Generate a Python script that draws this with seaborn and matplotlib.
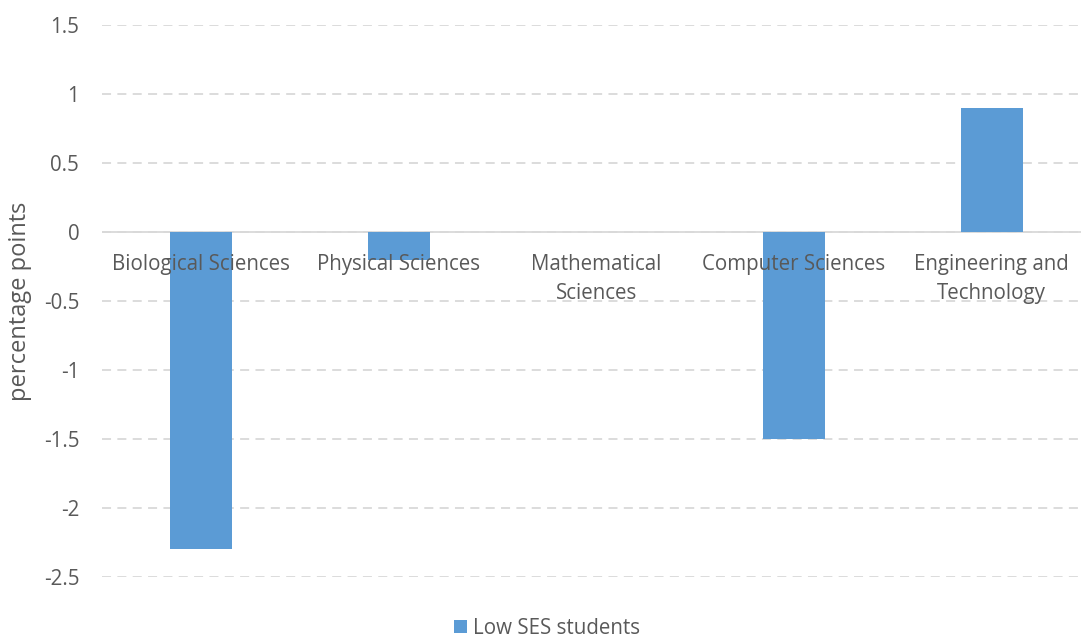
import matplotlib
matplotlib.use("Agg")
import matplotlib.pyplot as plt
import matplotlib.transforms as mtransforms
import seaborn as sns
import pandas as pd

categories = ["Biological Sciences", "Physical Sciences", "Mathematical\nSciences",
              "Computer Sciences", "Engineering and\nTechnology"]
values = [-2.3, -0.2, 0.0, -1.5, 0.9]
series_name = "Low SES students"
y_ticks = [-2.5, -2, -1.5, -1, -0.5, 0, 0.5, 1, 1.5]
y_tick_labels = ["-2.5", "-2", "-1.5", "-1", "-0.5", "0", "0.5", "1", "1.5"]

sns.set_theme(style="white")
plt.rcParams["font.family"] = ["Open Sans", "DejaVu Sans"]

text_color = "#595959"
grid_color = "#d9d9d9"
bar_color = "#5B9BD5"
fs = 14.8

df = pd.DataFrame({"category": categories, "value": values})

fig = plt.figure(figsize=(10.81, 6.39), dpi=100)
ax = fig.add_axes([0.0944, 0.097, 0.9144, 0.864])

sns.barplot(data=df, x="category", y="value", color=bar_color, width=0.314,
            saturation=1, linewidth=0, label=series_name, ax=ax, zorder=3)

ax.set_ylim(-2.5, 1.5)
ax.set_xlim(-0.5, len(categories) - 0.5)
ax.set_yticks(y_ticks)
ax.set_yticklabels(y_tick_labels)

# dashed horizontal gridlines under the bars, solid category axis at zero
ax.set_axisbelow(True)
ax.yaxis.grid(True, color=grid_color, linestyle=(0, (5, 3.5)), linewidth=1.3)
ax.xaxis.grid(False)
for side in ["top", "right", "left", "bottom"]:
    ax.spines[side].set_visible(False)
ax.axhline(0, color=grid_color, linewidth=1.3, zorder=1)

ax.tick_params(axis="y", length=0, pad=16.5, labelsize=fs, labelcolor=text_color)
ax.set_xticks([])
ax.set_xlabel("")

# category names sit just under the zero line, drawn over the bars
label_tr = mtransforms.offset_copy(ax.transData, fig=fig, x=0, y=-16, units="points")
for i, name in enumerate(categories):
    ax.text(i, 0, name, transform=label_tr, ha="center", va="top",
            fontsize=fs, color=text_color, linespacing=1.52, zorder=5)

ax.set_ylabel("percentage points", fontsize=17, color=text_color)
ax.yaxis.set_label_coords(-0.071, 0.5)

# legend centred on the figure, along the bottom edge
leg = ax.legend(loc="center", bbox_to_anchor=(0.506, 0.017), bbox_transform=fig.transFigure,
                frameon=False, fontsize=fs, handlelength=0.65, handleheight=0.65,
                handletextpad=0.3)
for t in leg.get_texts():
    t.set_color(text_color)

fig.savefig("out.png", dpi=100, facecolor="white")
